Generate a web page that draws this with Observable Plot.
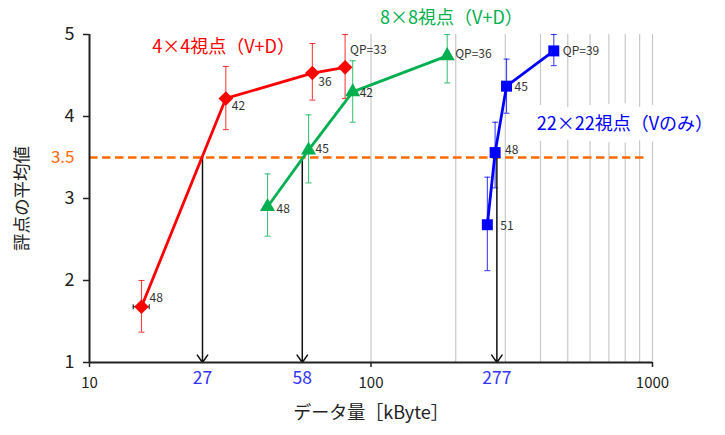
<!DOCTYPE html>
<html><head><meta charset="utf-8">
<script src="https://cdn.jsdelivr.net/npm/d3@7"></script>
<script src="https://cdn.jsdelivr.net/npm/@observablehq/plot@0.6"></script>
<style>body{margin:0;background:#fff}</style>
</head><body><div id="chart"></div>
<script>
// ---- data ----
const seriesNames = ["4×4視点（V+D）", "8×8視点（V+D）", "22×22視点（Vのみ）"];
const seriesColors = ["#ff0000", "#00b050", "#0000ff"];
const seriesSymbols = ["diamond2", "triangle", "square"];

const redX = [15.3, 30.5, 61.9, 80.9];
const redY = [1.68, 4.22, 4.53, 4.60];
const redLo = [1.37, 3.84, 4.20, 4.22];
const redHi = [2.00, 4.61, 4.89, 5.00];
const redLabels = ["48", "42", "36", "QP=33"];
const redXLo = [14.3];  // horizontal error on first point
const redXHi = [16.3];

const greenX = [42.9, 60.0, 86.1, 186.5];
const greenY = [2.90, 3.59, 4.30, 4.74];
const greenLo = [2.54, 3.19, 3.93, 4.41];
const greenHi = [3.30, 4.02, 4.68, 5.00];
const greenLabels = ["48", "45", "42", "QP=36"];

const blueX = [259, 276, 303, 446];
const blueY = [2.68, 3.56, 4.37, 4.80];
const blueLo = [2.12, 3.13, 4.04, 4.62];
const blueHi = [3.26, 3.93, 4.70, 5.00];
const blueLabels = ["51", "48", "45", "QP=39"];

const threshold = 3.5;
const thresholdEnd = 940;
const crossX = [25.2, 57, 280];
const crossLabels = ["27", "58", "277"];

const xTicks = [10, 100, 1000];
const yTicks = [1, 2, 3, 4, 5];
const gridX = [100, 200, 300, 400, 500, 600, 700, 800, 900, 1000];

// label offsets (px) for point annotations
const labelOffsets = [
  [[8, -9], [6, 8], [6, 9], [5, -17]],
  [[9, 2], [7, -1], [7, 1], [8, -2]],
  [[13, 1], [10, -2], [8, 1], [9, 0]]
];
// series name annotation anchors (data space)
const nameX = [16.7, 107.7, 388];
const nameY = [4.84, 5.195, 3.90];
// axis title anchors (data space)
const yTitlePos = [5.79, 3];

// ---- build tables ----
const all = [
  [redX, redY, redLo, redHi, redLabels],
  [greenX, greenY, greenLo, greenHi, greenLabels],
  [blueX, blueY, blueLo, blueHi, blueLabels]
];
const rows = [];
all.forEach(([xs, ys, lo, hi, lb], s) => {
  xs.forEach((x, i) => rows.push({s, x, y: ys[i], lo: lo[i], hi: hi[i], label: lb[i], i}));
});
const hErr = redXLo.map((lo, i) => ({x1: lo, x2: redXHi[i], y: redY[i]}));

const hcap = {draw(ctx, size) { const r = Math.sqrt(size / Math.PI); ctx.moveTo(-r, 0); ctx.lineTo(r, 0); }};
const vcap = {draw(ctx, size) { const r = Math.sqrt(size / Math.PI); ctx.moveTo(0, -r); ctx.lineTo(0, r); }};

const font = "'Noto Sans CJK JP', 'Noto Sans', sans-serif";
const marks = [];

// gridlines
marks.push(Plot.ruleX(gridX, {y1: 1, y2: 5, stroke: "#c8c8c8", strokeWidth: 1.2}));

// threshold dashed line
marks.push(Plot.ruleY([threshold], {x1: 10, x2: thresholdEnd, stroke: "#ff6a00", strokeWidth: 2.5, strokeDasharray: "8.5,4.5"}));

// error bars
[0, 1, 2].forEach(s => {
  const d = rows.filter(r => r.s === s);
  const c = seriesColors[s];
  marks.push(Plot.ruleX(d, {x: "x", y1: "lo", y2: "hi", stroke: c, strokeWidth: 1.1, strokeOpacity: 0.75}));
  marks.push(Plot.dot(d, {x: "x", y: "lo", symbol: hcap, r: 3, stroke: c, strokeWidth: 1.1, strokeOpacity: 0.75, fill: "none"}));
  marks.push(Plot.dot(d, {x: "x", y: "hi", symbol: hcap, r: 3, stroke: c, strokeWidth: 1.1, strokeOpacity: 0.75, fill: "none"}));
  if (s === 0) {
    marks.push(Plot.ruleY(hErr, {x1: "x1", x2: "x2", y: "y", stroke: "#222", strokeWidth: 1.1}));
    marks.push(Plot.dot(hErr, {x: "x1", y: "y", symbol: vcap, r: 2.5, stroke: "#222", strokeWidth: 1.1, fill: "none"}));
    marks.push(Plot.dot(hErr, {x: "x2", y: "y", symbol: vcap, r: 2.5, stroke: "#222", strokeWidth: 1.1, fill: "none"}));
  }
});

// arrows from threshold crossings
marks.push(Plot.arrow(crossX, {x1: d => d, x2: d => d, y1: threshold, y2: 1, stroke: "#111", strokeWidth: 1.5, headLength: 9, headAngle: 70}));

// lines, markers, labels
[0, 1, 2].forEach(s => {
  const d = rows.filter(r => r.s === s);
  const c = seriesColors[s];
  marks.push(Plot.line(d, {x: "x", y: "y", stroke: c, strokeWidth: 2.8}));
  const rr = s === 0 ? 6.6 : s === 1 ? 5.6 : 6.2;
  marks.push(Plot.dot(d, {x: "x", y: "y", symbol: seriesSymbols[s], r: rr, fill: c, stroke: "none"}));
  d.forEach(p => {
    const [dx, dy] = labelOffsets[s][p.i];
    marks.push(Plot.text([p], {x: "x", y: "y", text: "label", dx, dy, textAnchor: "start", fill: "#333", fontSize: 12, fontFamily: font}));
  });
  marks.push(Plot.text([seriesNames[s]], {
    x: () => nameX[s], y: () => nameY[s], text: d => d, textAnchor: "start", fill: c, fontSize: 18, fontFamily: font,
    stroke: s === 2 ? "white" : null, strokeWidth: s === 2 ? 22 : 0, strokeLinejoin: "round"
  }));
});

// axes lines
marks.push(Plot.ruleX([10], {stroke: "#222", strokeWidth: 2}));
marks.push(Plot.ruleY([1], {stroke: "#222", strokeWidth: 2}));

// axes ticks/labels
marks.push(Plot.axisY({ticks: yTicks, tickSize: 6, tickPadding: 9, fontSize: 18, label: null, stroke: "#222", strokeWidth: 1.5, fill: "#222", tickFormat: d => String(d), fontFamily: font}));
marks.push(Plot.axisX({ticks: xTicks, tickSize: 5, tickPadding: 10, fontSize: 15, label: null, stroke: "#222", strokeWidth: 1.5, fill: "#222", tickFormat: d => String(d), fontFamily: font}));

// 3.5 label
marks.push(Plot.text([threshold], {x: 10, y: d => d, text: d => String(d), dx: -15, textAnchor: "end", fill: "#ff6a00", fontSize: 17, fontFamily: font}));
// crossing labels
marks.push(Plot.text(crossX, {x: d => d, y: 1, text: (d, i) => crossLabels[i], dy: 16, fill: "#3333ff", fontSize: 17.5, fontFamily: font}));

// axis titles
marks.push(Plot.text(["評点の平均値"], {x: () => yTitlePos[0], y: () => yTitlePos[1], text: d => d, rotate: -90, fontSize: 17.5, fill: "#222", fontFamily: font}));
marks.push(Plot.text(["データ量［kByte］"], {frameAnchor: "bottom", dy: 56, fontSize: 18, fill: "#222", fontFamily: font}));

const chart = Plot.plot({
  width: 725, height: 435,
  marginLeft: 89, marginRight: 73, marginTop: 34, marginBottom: 73,
  x: {type: "log", domain: [10, 1000]},
  y: {domain: [1, 5]},
  style: {fontFamily: font, background: "white"},
  marks
});
document.getElementById("chart").appendChild(chart);
</script>
</body></html>
